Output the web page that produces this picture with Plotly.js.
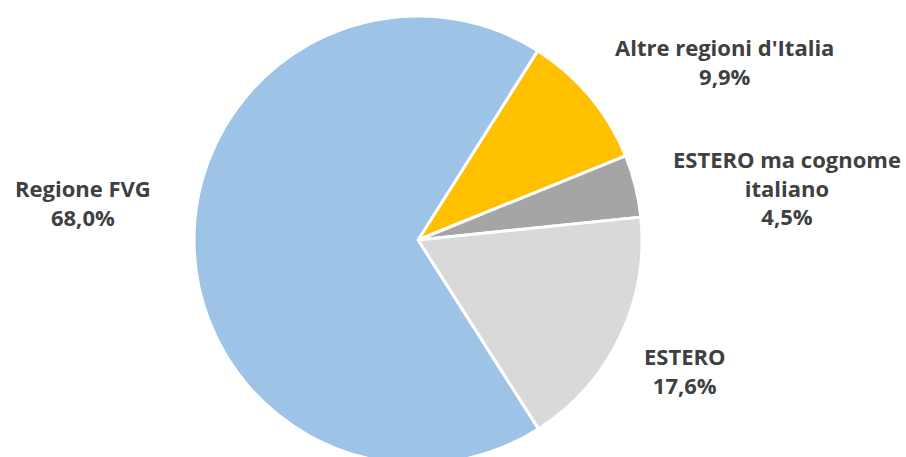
<!DOCTYPE html>
<html>
<head>
<meta charset="utf-8">
<script src="https://cdn.plot.ly/plotly-3.0.1.min.js"></script>
<style>
html,body{margin:0;padding:0;overflow:hidden;background:#fff;width:906px;height:457px;}
#chart{width:906px;height:490px;}
</style>
</head>
<body>
<div id="chart"></div>
<script>
var categories = ["Altre regioni d'Italia", "ESTERO ma cognome italiano", "ESTERO", "Regione FVG"];
var labelLines = ["Altre regioni d'Italia", "ESTERO ma cognome<br>italiano", "ESTERO", "Regione FVG"];
var values = [9.9, 4.5, 17.6, 68.0];
var colors = ["#FFC000", "#A5A5A5", "#D9D9D9", "#9DC3E6"];

// label anchor positions in pixels (layout only)
var labelPx = [[724, 61], [787, 187], [685, 370], [83, 202]];

var W = 906, H = 490, L = 194, T = 16, S = 448;
var R = W - L - S, B = H - T - S;

function fmt(v){ return v.toFixed(1).replace('.', ',') + '%'; }

var annotations = categories.map(function(c, i){
  return {
    text: labelLines[i] + '<br>' + fmt(values[i]),
    xref: 'paper', yref: 'paper',
    x: (labelPx[i][0] - L) / S,
    y: (T + S - labelPx[i][1]) / S,
    xanchor: 'center', yanchor: 'middle',
    showarrow: false,
    align: 'center',
    font: {family: 'Open Sans', size: 22, color: '#404040', weight: 'bold'}
  };
});

var data = [{
  type: 'pie',
  labels: categories,
  values: values,
  sort: false,
  direction: 'clockwise',
  rotation: 32.3,
  textinfo: 'none',
  hoverinfo: 'label+percent',
  marker: {colors: colors, line: {color: '#FFFFFF', width: 3}},
  showlegend: false
}];

var layout = {
  width: W, height: H,
  margin: {l: L, r: R, t: T, b: B, pad: 0},
  paper_bgcolor: '#FFFFFF',
  plot_bgcolor: '#FFFFFF',
  showlegend: false,
  annotations: annotations
};

Plotly.newPlot('chart', data, layout, {displayModeBar: false, staticPlot: true});
</script>
</body>
</html>
